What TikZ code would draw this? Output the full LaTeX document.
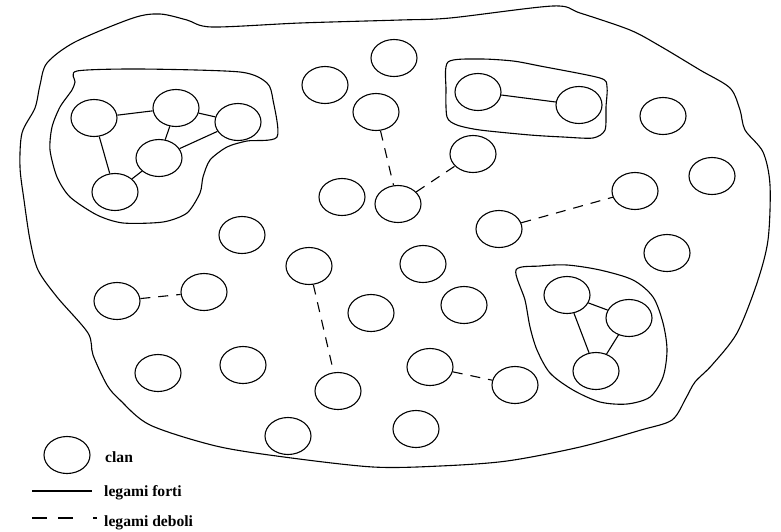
\documentclass[tikz,border=0pt]{standalone}
\usepackage{fontspec}
\setmainfont{Liberation Serif}
\usetikzlibrary{shapes.geometric}
\begin{document}
\begin{tikzpicture}[x=1pt,y=-1pt,
  clan/.style={draw, ellipse, minimum width=46pt, minimum height=37pt, inner sep=0pt, line width=1.1pt},
  strong/.style={line width=1.1pt},
  weak/.style={line width=1.1pt, dash pattern=on 10pt off 8pt},
  border/.style={line width=1.1pt},
  legtext/.style={anchor=base west, inner sep=0pt, font=\fontsize{15.6}{18}\selectfont\bfseries}]
\useasboundingbox (0,0) rectangle (781,531);
% outer boundary
\draw[border] plot[smooth cycle, tension=0.5] coordinates {
 (47,63) (75,42) (133,18) (160,14) (187,20) (212,27) (300,23) (400,20) (450,18)
 (553,6) (580,13) (630,30) (660,46) (700,70) (730,88) (740,110) (745,130) (763,152)
 (770,185) (768,240) (757,283) (737,333) (712,365) (695,382) (686,398) (672,420)
 (641,430) (580,447) (507,461) (440,466) (373,467) (284,457) (216,446) (150,425)
 (120,400) (107,385) (93,355) (88,333) (57,297) (38,270) (30,240) (24,200) (20,167)
 (22,133) (35,108) (40,85)};
% cluster boundaries
\draw[border] plot[smooth cycle, tension=0.45] coordinates {
 (77,71) (140,69) (240,72) (267,83) (273,100) (277,137) (247,141) (227,147) (210,160)
 (203,177) (200,193) (187,213) (163,222) (123,223) (97,215) (70,197) (57,177) (50,150)
 (52,127) (60,107) (72,90) (75,82)};
\draw[border] plot[smooth cycle, tension=0.45] coordinates {
 (448,62) (480,59) (513,61) (540,66) (600,78) (607,87) (606,107) (605,130) (593,138)
 (563,137) (530,135) (480,130) (457,125) (447,117) (446,90)};
\draw[border] plot[smooth cycle, tension=0.5] coordinates {
 (516,270) (540,266) (567,265) (600,270) (633,280) (653,297) (663,323) (667,350)
 (663,377) (650,397) (627,404) (600,402) (573,390) (550,373) (537,350) (530,327) (525,300)};
% cluster nodes
\node[clan] (a1) at (94,118) {};
\node[clan] (a2) at (176,108) {};
\node[clan] (a3) at (238,122) {};
\node[clan] (a4) at (159,158) {};
\node[clan] (a5) at (115,192) {};
\node[clan] (b1) at (478,92) {};
\node[clan] (b2) at (579,105) {};
\node[clan] (c1) at (567,295) {};
\node[clan] (c2) at (629,318) {};
\node[clan] (c3) at (596,371) {};
% other clans
\node[clan] (n1) at (325,85) {};
\node[clan] (n2) at (394,58) {};
\node[clan] (n3) at (376,112) {};
\node[clan] (n4) at (473,154) {};
\node[clan] (n5) at (342,197) {};
\node[clan] (n6) at (398,204) {};
\node[clan] (n7) at (242,235) {};
\node[clan] (n8) at (499,229) {};
\node[clan] (n9) at (635,191) {};
\node[clan] (n10) at (712,176) {};
\node[clan] (n11) at (663,116) {};
\node[clan] (n12) at (667,253) {};
\node[clan] (n13) at (309,266) {};
\node[clan] (n14) at (423,264) {};
\node[clan] (n15) at (117,301) {};
\node[clan] (n16) at (204,292) {};
\node[clan] (n17) at (371,313) {};
\node[clan] (n18) at (464,305) {};
\node[clan] (n19) at (158,373) {};
\node[clan] (n20) at (243,365) {};
\node[clan] (n21) at (338,391) {};
\node[clan] (n22) at (430,367) {};
\node[clan] (n23) at (515,385) {};
\node[clan] (n24) at (288,436) {};
\node[clan] (n25) at (416,429) {};
% strong ties
\draw[strong] (a1) -- (a2);
\draw[strong] (a2) -- (a3);
\draw[strong] (a2) -- (a4);
\draw[strong] (a3) -- (a4);
\draw[strong] (a1) -- (a5);
\draw[strong] (a4) -- (a5);
\draw[strong] (b1) -- (b2);
\draw[strong] (c1) -- (c2);
\draw[strong] (c2) -- (c3);
\draw[strong] (c1) -- (c3);
% weak ties
\draw[weak] (n3) -- (n6);
\draw[weak] (n6) -- (n4);
\draw[weak] (n8) -- (n9);
\draw[weak] (n13) -- (n21);
\draw[weak] (n15) -- (n16);
\draw[weak] (n22) -- (n23);
% legend
\node[clan] (lc) at (67,455) {};
\node[legtext] (lt1) at (105,462) {clan};
\coordinate (ls1) at (32,491);
\coordinate (ls2) at (92,491);
\draw[strong] (ls1) -- (ls2);
\node[legtext] (lt2) at (104,496) {legami forti};
\coordinate (lw1) at (32,518);
\coordinate (lw2) at (97,518);
\draw[line width=1.1pt, dash pattern=on 15pt off 11pt on 15pt off 20pt on 4pt off 10pt] (lw1) -- (lw2);
\node[legtext] (lt3) at (104,526) {legami deboli};
\end{tikzpicture}
\end{document}
